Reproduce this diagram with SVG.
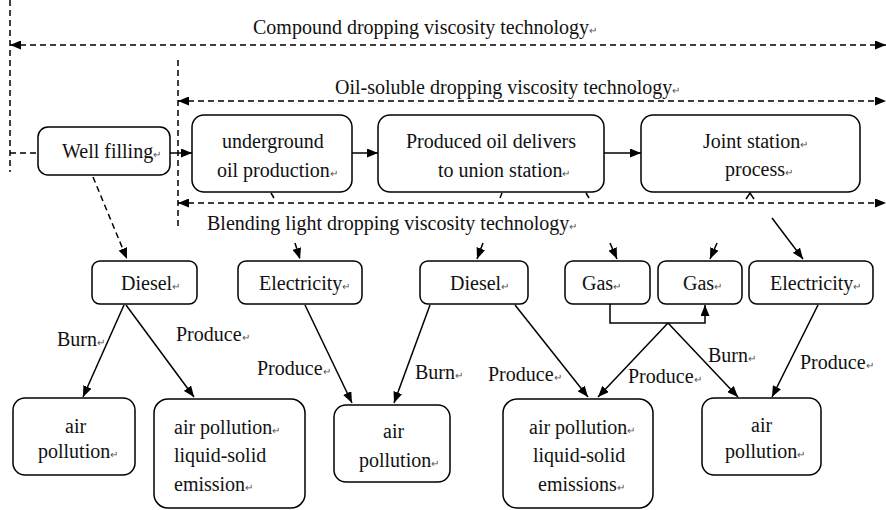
<svg xmlns="http://www.w3.org/2000/svg" width="886" height="510" viewBox="0 0 886 510">
<defs>
<marker id="ah" viewBox="0 0 11 9" refX="11" refY="4.5" markerWidth="11" markerHeight="9" markerUnits="userSpaceOnUse" orient="auto-start-reverse">
<path d="M0,0 L11,4.5 L0,9 z" fill="#000"/>
</marker>
</defs>
<style>
.box{fill:#fff;stroke:#000;stroke-width:1.5}
.t{font-family:"Liberation Serif","Times New Roman",serif;font-size:20px;fill:#111}
.r{font-size:10px;fill:#555}
.ln{stroke:#000;stroke-width:1.5;fill:none}
.ds{stroke:#000;stroke-width:1.5;fill:none;stroke-dasharray:6,4}
.a{marker-end:url(#ah)}
.b{marker-start:url(#ah);marker-end:url(#ah)}
</style>
<rect width="886" height="510" fill="#fff"/>

<g id="titles">
<text class="t" x="253" y="34">Compound dropping viscosity technology<tspan class="r">↵</tspan></text>
<text class="t" x="335" y="94">Oil-soluble dropping viscosity technology<tspan class="r">↵</tspan></text>
<text class="t" x="207" y="230">Blending light dropping viscosity technology<tspan class="r">↵</tspan></text>
</g>

<g id="connectors">
<path class="ds b" d="M10,45 H886"/>
<path class="ds" d="M10,0 V172"/>
<path class="ds" d="M178,60 V228"/>
<path class="ds" d="M10,153 H38"/>
<path class="ds b" d="M178,101 H886"/>
<path class="ds b" d="M178,203 H886"/>
<path class="ln a" d="M170,153 H192"/>
<path class="ln a" d="M352,153 H378"/>
<path class="ln a" d="M604,153 H641"/>
<path class="ln" d="M271,193 L274,198"/>
<path class="ln" d="M502,193 L500,198"/>
<path class="ln" d="M586,193 L589,198"/>
<path class="ln" d="M746,199 L750,193 L754,199"/>
<path class="ds a" d="M93,177 L127,259"/>
<path class="ds a" d="M295,243 L300,259"/>
<path class="ln a" d="M483,243 L477,259"/>
<path class="ln a" d="M610,243 L617,259"/>
<path class="ln a" d="M717,243 L710,259"/>
<path class="ln a" d="M772,218 L803,259"/>
<path class="ln a" d="M124,305 L83,397"/>
<path class="ln a" d="M126,305 L194,397"/>
<path class="ln a" d="M305,305 L352,403"/>
<path class="ln a" d="M430,305 L394,403"/>
<path class="ln a" d="M515,305 L588,397"/>
<path class="ln a" d="M610,304 V323 H705 V305"/>
<path class="ln a" d="M668,323 L598,397"/>
<path class="ln a" d="M668,323 L738,397"/>
<path class="ln a" d="M818,305 L772,397"/>
</g>

<g id="labels">
<text class="t" x="57" y="346">Burn<tspan class="r">↵</tspan></text>
<text class="t" x="176" y="341">Produce<tspan class="r">↵</tspan></text>
<text class="t" x="257" y="375">Produce<tspan class="r">↵</tspan></text>
<text class="t" x="415" y="379">Burn<tspan class="r">↵</tspan></text>
<text class="t" x="488" y="381">Produce<tspan class="r">↵</tspan></text>
<text class="t" x="628" y="383">Produce<tspan class="r">↵</tspan></text>
<text class="t" x="708" y="362">Burn<tspan class="r">↵</tspan></text>
<text class="t" x="800" y="369">Produce<tspan class="r">↵</tspan></text>
</g>

<g id="well-filling">
<rect class="box" x="38" y="127" width="132" height="48" rx="10"/>
<text class="t" x="62" y="158">Well filling<tspan class="r">↵</tspan></text>
</g>
<g id="underground">
<rect class="box" x="192" y="115" width="160" height="77" rx="12"/>
<text class="t" x="222" y="148">underground</text>
<text class="t" x="217" y="177">oil production<tspan class="r">↵</tspan></text>
</g>
<g id="produced-oil">
<rect class="box" x="378" y="115" width="226" height="77" rx="12"/>
<text class="t" x="406" y="148">Produced oil delivers</text>
<text class="t" x="438" y="177">to union station<tspan class="r">↵</tspan></text>
</g>
<g id="joint-station">
<rect class="box" x="641" y="115" width="219" height="77" rx="12"/>
<text class="t" x="703" y="148">Joint station<tspan class="r">↵</tspan></text>
<text class="t" x="725" y="176">process<tspan class="r">↵</tspan></text>
</g>

<g id="diesel-1">
<rect class="box" x="92" y="261" width="105" height="43" rx="8"/>
<text class="t" x="121" y="290">Diesel<tspan class="r">↵</tspan></text>
</g>
<g id="electricity-1">
<rect class="box" x="238" y="261" width="124" height="43" rx="8"/>
<text class="t" x="259" y="290">Electricity<tspan class="r">↵</tspan></text>
</g>
<g id="diesel-2">
<rect class="box" x="420" y="261" width="108" height="43" rx="8"/>
<text class="t" x="450" y="290">Diesel<tspan class="r">↵</tspan></text>
</g>
<g id="gas-1">
<rect class="box" x="565" y="261" width="85" height="43" rx="8"/>
<text class="t" x="582" y="290">Gas<tspan class="r">↵</tspan></text>
</g>
<g id="gas-2">
<rect class="box" x="658" y="261" width="84" height="43" rx="8"/>
<text class="t" x="683" y="290">Gas<tspan class="r">↵</tspan></text>
</g>
<g id="electricity-2">
<rect class="box" x="749" y="261" width="124" height="43" rx="8"/>
<text class="t" x="770" y="290">Electricity<tspan class="r">↵</tspan></text>
</g>

<g id="air-pollution-1">
<rect class="box" x="13" y="398" width="122" height="77" rx="12"/>
<text class="t" x="65" y="433">air</text>
<text class="t" x="38" y="458">pollution<tspan class="r">↵</tspan></text>
</g>
<g id="emission-1">
<rect class="box" x="154" y="399" width="151" height="109" rx="14"/>
<text class="t" x="174" y="434">air pollution<tspan class="r">↵</tspan></text>
<text class="t" x="174" y="462">liquid-solid</text>
<text class="t" x="174" y="491">emission<tspan class="r">↵</tspan></text>
</g>
<g id="air-pollution-2">
<rect class="box" x="334" y="405" width="116" height="77" rx="12"/>
<text class="t" x="383" y="438">air</text>
<text class="t" x="359" y="467">pollution<tspan class="r">↵</tspan></text>
</g>
<g id="emissions-2">
<rect class="box" x="503" y="399" width="150" height="109" rx="14"/>
<text class="t" x="529" y="434">air pollution<tspan class="r">↵</tspan></text>
<text class="t" x="533" y="462">liquid-solid</text>
<text class="t" x="538" y="491">emissions<tspan class="r">↵</tspan></text>
</g>
<g id="air-pollution-3">
<rect class="box" x="702" y="398" width="119" height="77" rx="12"/>
<text class="t" x="751" y="432">air</text>
<text class="t" x="725" y="458">pollution<tspan class="r">↵</tspan></text>
</g>
</svg>
